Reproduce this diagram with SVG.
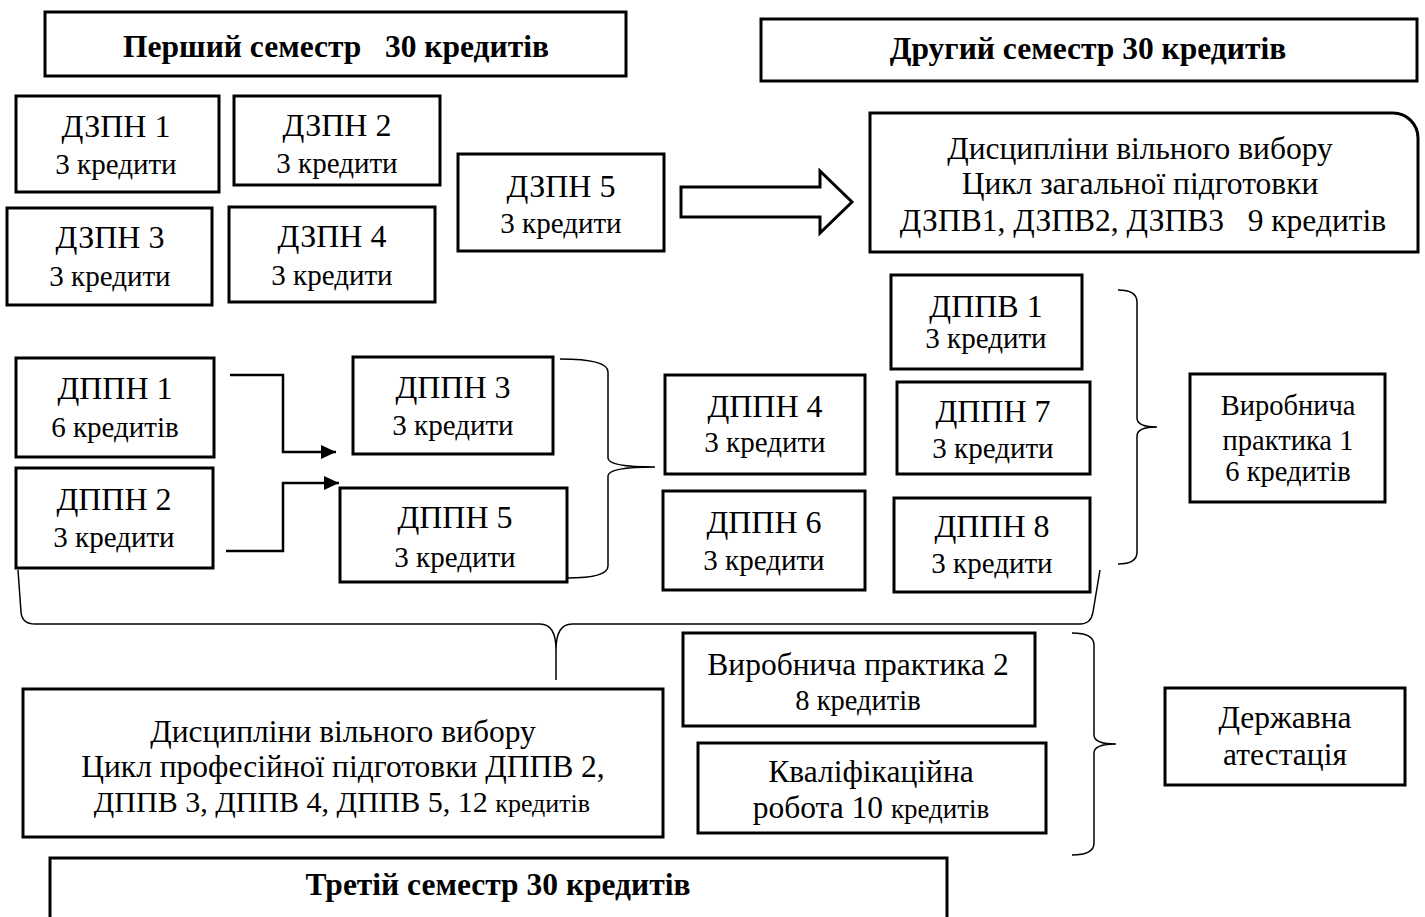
<svg xmlns="http://www.w3.org/2000/svg" width="1425" height="917" viewBox="0 0 1425 917">
<defs>
<style>
.box{fill:#fff;stroke:#000;stroke-width:3}
.t{font-family:"Liberation Serif","Times New Roman",serif;fill:#000;text-anchor:middle}
.h{font-size:31.5px;font-weight:bold}
.ti{font-size:32px}
.cr{font-size:29px}
.lg{font-size:31.5px}
.sm{font-size:28.5px}
.brace{fill:none;stroke:#000;stroke-width:1.5}
.conn{fill:none;stroke:#000;stroke-width:2.5}
</style>
<marker id="ah" markerWidth="16" markerHeight="14" refX="15" refY="7" orient="auto" markerUnits="userSpaceOnUse">
<path d="M0,0 L15,7 L0,14 Z" fill="#000"/>
</marker>
</defs>
<rect width="1425" height="917" fill="#fff"/>

<g id="sem1"><rect class="box" x="45" y="12" width="581" height="64"/><text class="t h" x="336" y="57" xml:space="preserve">Перший семестр   30 кредитів</text></g>
<g id="sem2"><rect class="box" x="761" y="19" width="656" height="62"/><text class="t h" x="1088" y="59">Другий семестр 30 кредитів</text></g>

<g id="dzpn1"><rect class="box" x="16" y="96" width="203" height="96"/><text class="t ti" x="116" y="137">ДЗПН 1</text><text class="t cr" x="116" y="174">3 кредити</text></g>
<g id="dzpn2"><rect class="box" x="234" y="96" width="206" height="89"/><text class="t ti" x="337" y="136">ДЗПН 2</text><text class="t cr" x="337" y="173">3 кредити</text></g>
<g id="dzpn3"><rect class="box" x="7" y="208" width="205" height="97"/><text class="t ti" x="110" y="248">ДЗПН 3</text><text class="t cr" x="110" y="286">3 кредити</text></g>
<g id="dzpn4"><rect class="box" x="229" y="207" width="206" height="95"/><text class="t ti" x="332" y="247">ДЗПН 4</text><text class="t cr" x="332" y="285">3 кредити</text></g>
<g id="dzpn5"><rect class="box" x="458" y="154" width="206" height="97"/><text class="t ti" x="561" y="197">ДЗПН 5</text><text class="t cr" x="561" y="233">3 кредити</text></g>

<g id="dzpv"><path class="box" d="M870,113 H1393 A25,25 0 0 1 1418,138 V252 H870 Z"/>
<text class="t lg" x="1140" y="159">Дисципліни вільного вибору</text>
<text class="t lg" x="1140" y="194">Цикл загальної підготовки</text>
<text class="t lg" x="1143" y="231" xml:space="preserve">ДЗПВ1, ДЗПВ2, ДЗПВ3   9 кредитів</text></g>

<g id="dppn1"><rect class="box" x="16" y="358" width="198" height="99"/><text class="t ti" x="115" y="399">ДППН 1</text><text class="t cr" x="115" y="437">6 кредитів</text></g>
<g id="dppn2"><rect class="box" x="16" y="468" width="197" height="100"/><text class="t ti" x="114" y="510">ДППН 2</text><text class="t cr" x="114" y="547">3 кредити</text></g>
<g id="dppn3"><rect class="box" x="353" y="357" width="200" height="97"/><text class="t ti" x="453" y="398">ДППН 3</text><text class="t cr" x="453" y="435">3 кредити</text></g>
<g id="dppn5"><rect class="box" x="340" y="488" width="227" height="94"/><text class="t ti" x="455" y="528">ДППН 5</text><text class="t cr" x="455" y="567">3 кредити</text></g>
<g id="dppn4"><rect class="box" x="665" y="375" width="200" height="99"/><text class="t ti" x="765" y="417">ДППН 4</text><text class="t cr" x="765" y="452">3 кредити</text></g>
<g id="dppn6"><rect class="box" x="663" y="491" width="202" height="99"/><text class="t ti" x="764" y="533">ДППН 6</text><text class="t cr" x="764" y="570">3 кредити</text></g>
<g id="dppv1"><rect class="box" x="891" y="275" width="191" height="94"/><text class="t ti" x="986" y="317">ДППВ 1</text><text class="t cr" x="986" y="348">3 кредити</text></g>
<g id="dppn7"><rect class="box" x="897" y="382" width="193" height="92"/><text class="t ti" x="993" y="422">ДППН 7</text><text class="t cr" x="993" y="458">3 кредити</text></g>
<g id="dppn8"><rect class="box" x="894" y="498" width="196" height="94"/><text class="t ti" x="992" y="537">ДППН 8</text><text class="t cr" x="992" y="573">3 кредити</text></g>

<g id="vp1"><rect class="box" x="1190" y="374" width="195" height="128"/><text class="t sm" x="1288" y="415">Виробнича</text><text class="t sm" x="1288" y="450">практика 1</text><text class="t sm" x="1288" y="481">6 кредитів</text></g>

<g id="dppv"><rect class="box" x="23" y="689" width="640" height="148"/>
<text class="t lg" x="343" y="742">Дисципліни вільного вибору</text>
<text class="t lg" x="343" y="777">Цикл професійної підготовки ДППВ 2,</text>
<text class="t" font-size="30" x="342" y="812">ДППВ 3, ДППВ 4, ДППВ 5, 12 <tspan font-size="26">кредитів</tspan></text></g>

<g id="vp2"><rect class="box" x="683" y="633" width="352" height="93"/><text class="t lg" x="858" y="675">Виробнича практика 2</text><text class="t sm" x="858" y="710">8 кредитів</text></g>
<g id="kval"><rect class="box" x="698" y="743" width="348" height="90"/><text class="t lg" x="871" y="782">Кваліфікаційна</text><text class="t lg" x="871" y="818">робота 10 <tspan font-size="27">кредитів</tspan></text></g>
<g id="da"><rect class="box" x="1165" y="688" width="240" height="97"/><text class="t lg" x="1285" y="728">Державна</text><text class="t lg" x="1285" y="765">атестація</text></g>

<g id="sem3"><rect class="box" x="50" y="858" width="897" height="80"/><text class="t h" x="498" y="895">Третій семестр 30 кредитів</text></g>

<g id="connectors">
<path class="box" stroke-width="2.5" d="M681,187 H820 V171 L852,202 L820,233 V217 H681 Z"/>
<path class="conn" d="M230,375 H283 V452 H336" marker-end="url(#ah)"/>
<path class="conn" d="M226,551 H283 V483 H339" marker-end="url(#ah)"/>
<path class="brace" d="M560,359 Q608,359 608,372 L608,458 Q608,467 655,467 Q608,467 608,476 L608,566 Q608,578 567,578"/>
<path class="brace" d="M1118,290 Q1137,290 1137,302 L1137,418 Q1137,427 1157,427 Q1137,427 1137,436 L1137,552 Q1137,564 1118,564"/>
<path class="brace" d="M1072,633 Q1094,633 1094,645 L1094,735 Q1094,744 1116,744 Q1094,744 1094,753 L1094,843 Q1094,855 1072,855"/>
<path class="brace" d="M18,570 L21,612 Q22,624 35,624 L540,624 Q556,624 556,650 L556,680 M556,650 Q556,624 572,624 L1080,624 Q1091,624 1093,612 L1100,570"/>
</g>
</svg>
